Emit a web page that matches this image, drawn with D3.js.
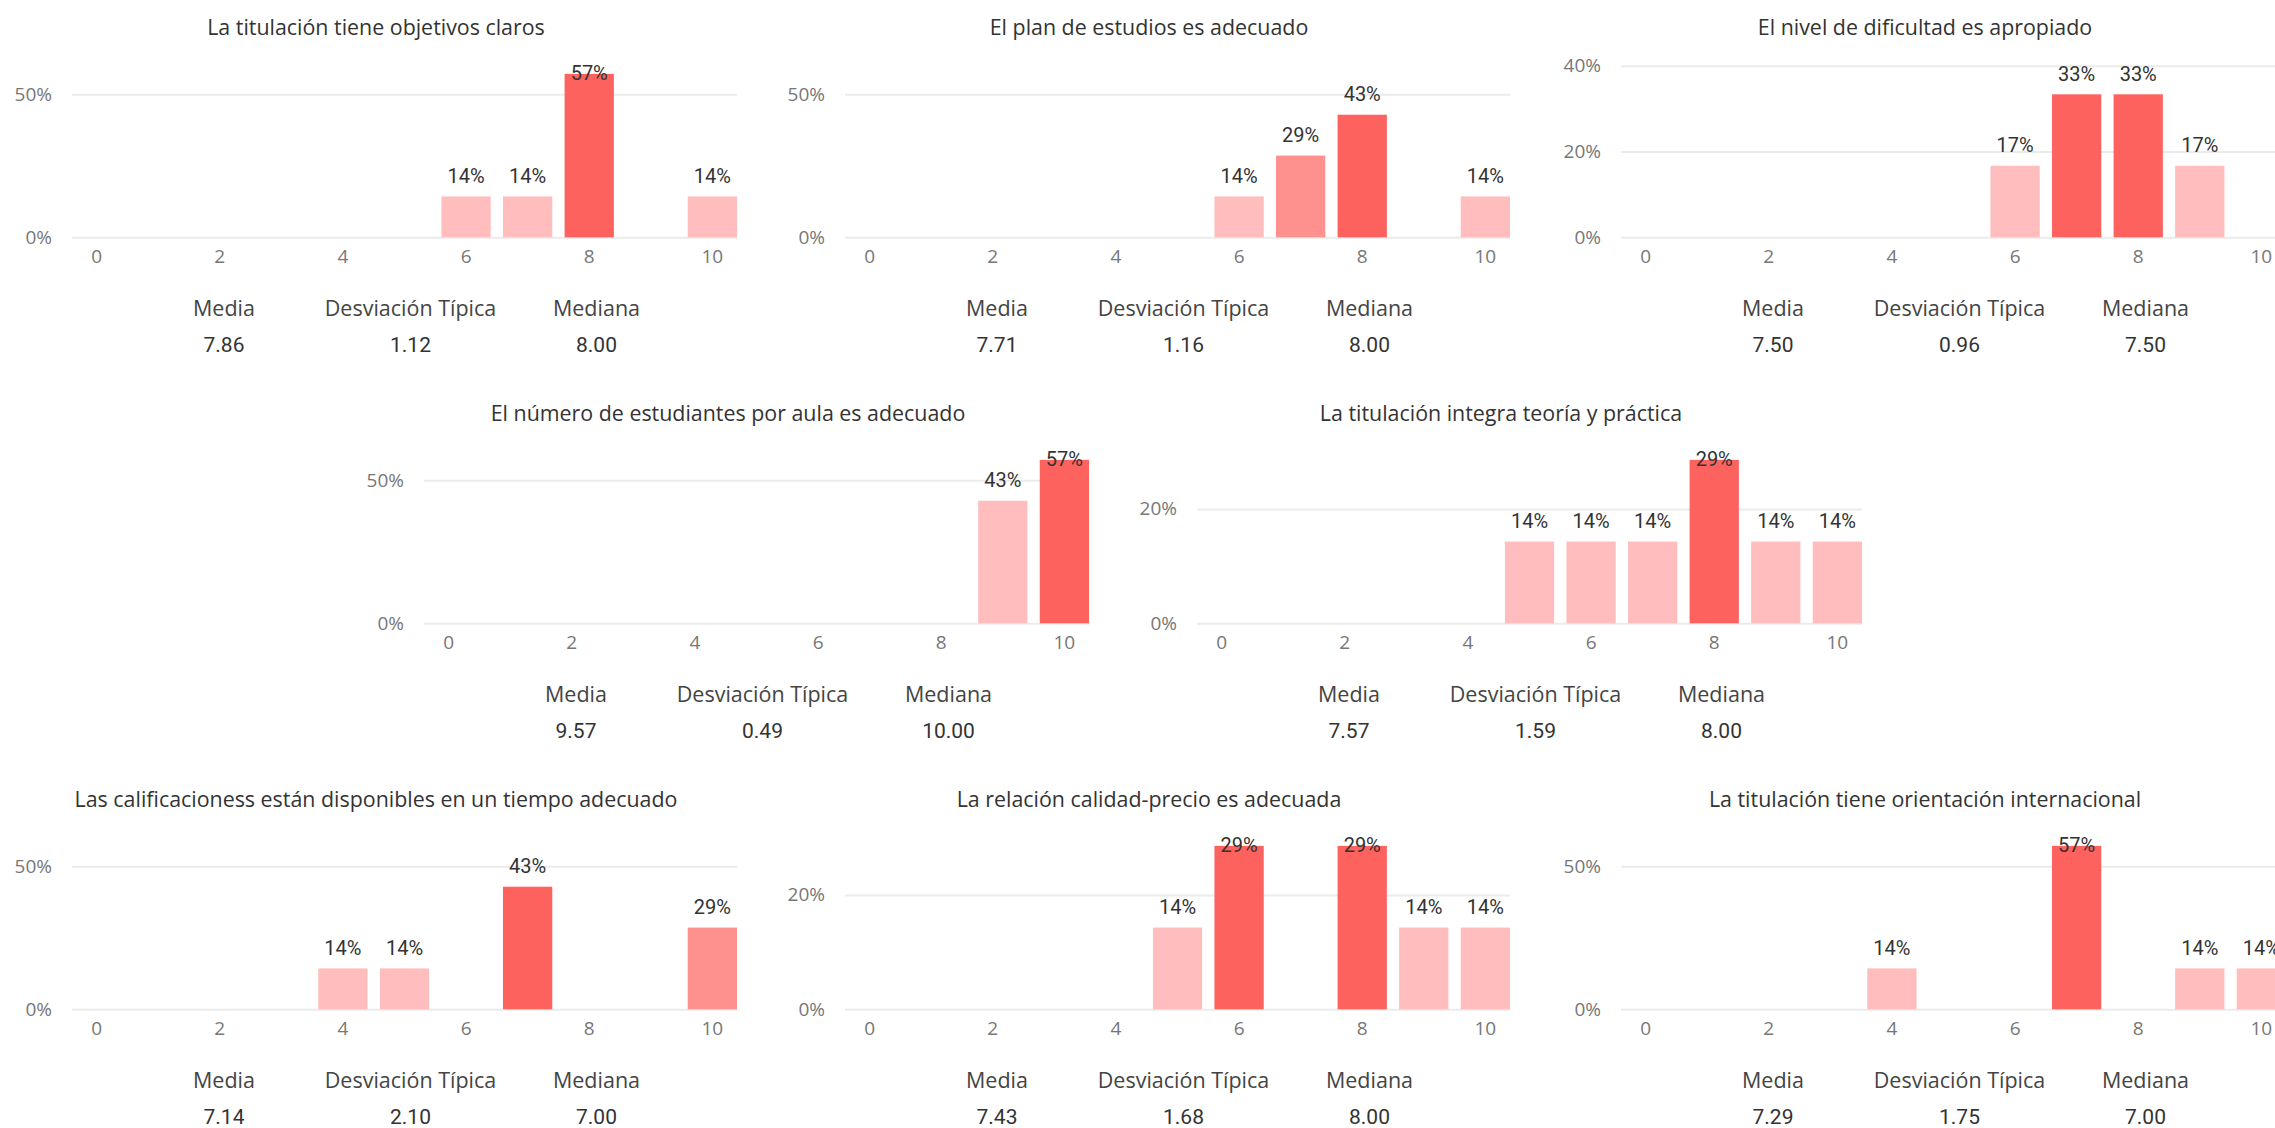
<!DOCTYPE html>
<html>
<head>
<meta charset="utf-8">
<script src="https://cdn.jsdelivr.net/npm/d3@7"></script>
<style>
  html, body { margin: 0; padding: 0; background: #ffffff; }
  svg { display: block; }
</style>
</head>
<body>
<script>
// ---------- DATA ----------
const titles = [
  "La titulación tiene objetivos claros",
  "El plan de estudios es adecuado",
  "El nivel de dificultad es apropiado",
  "El número de estudiantes por aula es adecuado",
  "La titulación integra teoría y práctica",
  "Las calificacioness están disponibles en un tiempo adecuado",
  "La relación calidad-precio es adecuada",
  "La titulación tiene orientación internacional"
];
const scores = [0, 1, 2, 3, 4, 5, 6, 7, 8, 9, 10];
const xTickLabels = [0, 2, 4, 6, 8, 10];
// percentage of answers per score (0..10)
const pctObjetivos     = [0, 0, 0, 0, 0, 0, 14.29, 14.29, 57.14, 0, 14.29];
const pctPlan          = [0, 0, 0, 0, 0, 0, 14.29, 28.57, 42.86, 0, 14.29];
const pctDificultad    = [0, 0, 0, 0, 0, 0, 16.67, 33.33, 33.33, 16.67, 0];
const pctEstudiantes   = [0, 0, 0, 0, 0, 0, 0, 0, 0, 42.86, 57.14];
const pctTeoria        = [0, 0, 0, 0, 0, 14.29, 14.29, 14.29, 28.57, 14.29, 14.29];
const pctCalificaciones= [0, 0, 0, 0, 14.29, 14.29, 0, 42.86, 0, 0, 28.57];
const pctCalidadPrecio = [0, 0, 0, 0, 0, 14.29, 28.57, 0, 28.57, 14.29, 14.29];
const pctInternacional = [0, 0, 0, 0, 14.29, 0, 0, 57.14, 0, 14.29, 14.29];
const seriesValues = [pctObjetivos, pctPlan, pctDificultad, pctEstudiantes,
                      pctTeoria, pctCalificaciones, pctCalidadPrecio, pctInternacional];
const yMaxPct   = [60, 60, 40, 60, 30, 60, 30, 60];
const yTickPct  = [[0, 50], [0, 50], [0, 20, 40], [0, 50], [0, 20], [0, 50], [0, 20], [0, 50]];
const statLabels = ["Media", "Desviación Típica", "Mediana"];
const media    = ["7.86", "7.71", "7.50", "9.57", "7.57", "7.14", "7.43", "7.29"];
const desv     = ["1.12", "1.16", "0.96", "0.49", "1.59", "2.10", "1.68", "1.75"];
const mediana  = ["8.00", "8.00", "7.50", "10.00", "8.00", "7.00", "8.00", "7.00"];

// ---------- LAYOUT ----------
const W = 2275, H = 1128;
const plotW = 665, plotH = 171.6;
const slots = [
  {x: 72,   base: 237.3}, {x: 845, base: 237.3}, {x: 1621, base: 237.3},
  {x: 424,  base: 623.3}, {x: 1197, base: 623.3},
  {x: 72,   base: 1009.3}, {x: 845, base: 1009.3}, {x: 1621, base: 1009.3}
];
const lightColor = "#FFBDBD", darkColor = "#FD625E";
const titleFont = "'Segoe UI', 'Open Sans', sans-serif";
const dinFont = "Roboto, 'DejaVu Sans', sans-serif";

const svg = d3.select("body").append("svg")
  .attr("width", W).attr("height", H)
  .attr("viewBox", `0 0 ${W} ${H}`);

titles.forEach((title, i) => {
  const vals = seriesValues[i];
  const slot = slots[i];
  const g = svg.append("g")
    .attr("transform", `translate(${slot.x},${slot.base - plotH})`);

  const x = d3.scaleBand().domain(scores).range([0, plotW])
    .paddingInner(0.2).paddingOuter(0);
  const y = d3.scaleLinear().domain([0, yMaxPct[i]]).range([plotH, 0]);

  const nonZero = vals.filter(v => v > 0);
  const color = d3.scaleLinear()
    .domain([d3.min(nonZero), d3.max(nonZero)])
    .range([lightColor, darkColor])
    .interpolate(d3.interpolateRgb);

  // title
  g.append("text")
    .attr("x", 304).attr("y", plotH - 211)
    .attr("text-anchor", "middle").attr("dominant-baseline", "central")
    .style("font-family", titleFont).style("font-size", "21.4px")
    .style("fill", "#333333")
    .text(title);

  // y axis + gridlines
  const yAxis = d3.axisLeft(y)
    .tickValues(yTickPct[i])
    .tickSize(-plotW)
    .tickPadding(20)
    .tickFormat(d => d + "%");
  const ya = g.append("g").call(yAxis);
  ya.select(".domain").remove();
  ya.selectAll(".tick line").attr("stroke", "#EBEBEB").attr("stroke-width", 2);
  ya.selectAll(".tick text")
    .style("font-family", titleFont).style("font-size", "19px")
    .style("fill", "#777777");

  // x axis
  const xAxis = d3.axisBottom(x).tickValues(xTickLabels).tickSize(0).tickPadding(12);
  const xa = g.append("g").attr("transform", `translate(0,${plotH})`).call(xAxis);
  xa.select(".domain").remove();
  xa.selectAll(".tick text")
    .style("font-family", titleFont).style("font-size", "19px")
    .style("fill", "#777777");

  const data = scores.map((s, k) => ({score: s, v: vals[k]})).filter(d => d.v > 0);

  // bars
  g.selectAll("rect.bar").data(data).enter().append("rect")
    .attr("class", "bar")
    .attr("x", d => x(d.score))
    .attr("width", x.bandwidth())
    .attr("y", d => y(d.v))
    .attr("height", d => plotH - y(d.v))
    .attr("fill", d => color(d.v));

  // data labels
  g.selectAll("text.lbl").data(data).enter().append("text")
    .attr("class", "lbl")
    .attr("x", d => x(d.score) + x.bandwidth() / 2)
    .attr("y", d => Math.max(y(d.v) - 13.5, 14.5))
    .attr("text-anchor", "middle")
    .style("font-family", dinFont).style("font-size", "20px")
    .style("fill", "#333333")
    .text(d => Math.round(d.v) + "%");

  // stats
  const statX = [152, 338.5, 524.5];
  const statVals = [media[i], desv[i], mediana[i]];
  statLabels.forEach((lab, k) => {
    g.append("text")
      .attr("x", statX[k]).attr("y", plotH + 70)
      .attr("text-anchor", "middle").attr("dominant-baseline", "central")
      .style("font-family", titleFont).style("font-size", "21.5px")
      .style("fill", "#444444")
      .text(lab);
    g.append("text")
      .attr("x", statX[k]).attr("y", plotH + 108)
      .attr("text-anchor", "middle").attr("dominant-baseline", "central")
      .style("font-family", dinFont).style("font-size", "21px")
      .style("fill", "#333333")
      .text(statVals[k]);
  });
});
</script>
</body>
</html>
